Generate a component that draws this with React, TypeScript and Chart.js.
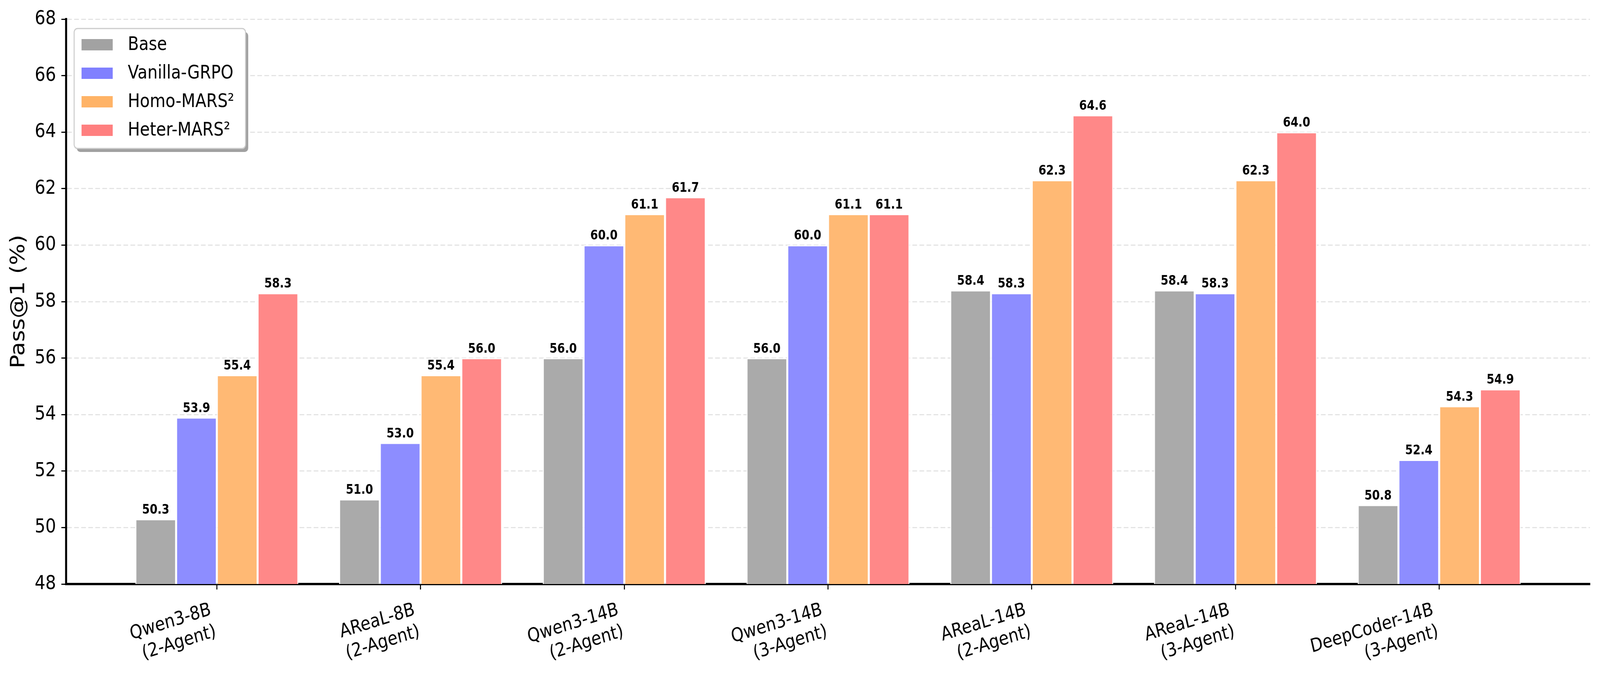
import { useEffect, useRef } from "react"
import { Chart, registerables } from "chart.js"

Chart.register(...registerables)

const categories = [
  ["Qwen3-8B", "(2-Agent)"],
  ["AReaL-8B", "(2-Agent)"],
  ["Qwen3-14B", "(2-Agent)"],
  ["Qwen3-14B", "(3-Agent)"],
  ["AReaL-14B", "(2-Agent)"],
  ["AReaL-14B", "(3-Agent)"],
  ["DeepCoder-14B", "(3-Agent)"],
]
const seriesNames = ["Base", "Vanilla-GRPO", "Homo-MARS²", "Heter-MARS²"]
const baseValues = [50.3, 51.0, 56.0, 56.0, 58.4, 58.4, 50.8]
const vanillaValues = [53.9, 53.0, 60.0, 60.0, 58.3, 58.3, 52.4]
const homoValues = [55.4, 55.4, 61.1, 61.1, 62.3, 62.3, 54.3]
const heterValues = [58.3, 56.0, 61.7, 61.1, 64.6, 64.0, 54.9]
const yTicks = [48, 50, 52, 54, 56, 58, 60, 62, 64, 66, 68]

const barColors = ["#aaaaaa", "#8d8dff", "#ffb974", "#ff8888"]
const swatchColors = ["#a2a2a2", "#8080ff", "#ffb366", "#ff7f7f"]
const FONT = "'DejaVu Sans', sans-serif"

// the chart is drawn on a 4770x1756 canvas; css stretches it to the viewport
const W = 4770
const H = 1756

// bar value labels
const valueLabels = {
  id: "valueLabels",
  afterDatasetsDraw(chart: any) {
    const ctx = chart.ctx
    ctx.save()
    ctx.font = `bold 33px ${FONT}`
    ctx.textAlign = "center"
    ctx.textBaseline = "bottom"
    ctx.fillStyle = "#000"
    chart.data.datasets.forEach((ds: any, di: number) => {
      chart.getDatasetMeta(di).data.forEach((bar: any, i: number) => {
        ctx.fillText(ds.data[i].y.toFixed(1), bar.x, bar.y - 6)
      })
    })
    ctx.restore()
  },
}

// matplotlib-style legend box with shadow
const legendBox = {
  id: "legendBox",
  afterDraw(chart: any) {
    const ctx = chart.ctx
    const { left, top } = chart.chartArea
    const x = left + 24
    const y = top + 24
    const w = 511
    const h = 307
    ctx.save()
    ctx.fillStyle = "#a0a0a0"
    ctx.beginPath()
    ctx.roundRect(x + 8, y + 9, w, h, 10)
    ctx.fill()
    ctx.fillStyle = "#ffffff"
    ctx.strokeStyle = "#cccccc"
    ctx.lineWidth = 3
    ctx.beginPath()
    ctx.roundRect(x, y, w, h, 10)
    ctx.fill()
    ctx.stroke()
    ctx.font = `48px ${FONT}`
    ctx.textAlign = "left"
    ctx.textBaseline = "middle"
    seriesNames.forEach((name, i) => {
      const cy = y + 41 + i * 73
      ctx.fillStyle = swatchColors[i]
      ctx.fillRect(x + 22, cy - 14, 93, 29)
      ctx.fillStyle = "#000"
      ctx.fillText(name, x + 160, cy + 2)
    })
    ctx.restore()
  },
}

export default function App() {
  const chartRef = useRef<HTMLCanvasElement>(null)
  const chartInstance = useRef<Chart | null>(null)

  useEffect(() => {
    if (!chartRef.current) return
    if (chartInstance.current) chartInstance.current.destroy()

    const series = [baseValues, vanillaValues, homoValues, heterValues]

    chartInstance.current = new Chart(chartRef.current, {
      type: "bar",
      data: {
        datasets: series.map((values, si) => ({
          label: seriesNames[si],
          data: values.map((v, i) => ({ x: i, y: v })),
          backgroundColor: barColors[si],
          borderColor: "#ffffff",
          borderWidth: 3,
          borderSkipped: "bottom",
          categoryPercentage: 0.8,
          barPercentage: 1.0,
        })),
      },
      options: {
        animation: false,
        responsive: false,
        devicePixelRatio: 1,
        layout: { padding: { top: 49, right: 30, left: 0, bottom: 0 } },
        scales: {
          x: {
            type: "linear",
            min: -0.74,
            max: 6.74,
            offset: false,
            afterBuildTicks: (scale: any) => {
              scale.ticks = categories.map((_, i) => ({ value: i }))
            },
            afterFit: (scale: any) => {
              scale.height = 261
              scale.paddingLeft = 0
              scale.paddingRight = 0
            },
            ticks: {
              autoSkip: false,
              minRotation: 15,
              maxRotation: 15,
              padding: 24,
              labelOffset: -18,
              color: "#000",
              font: { family: FONT, size: 48 },
              callback: (value: any) => categories[value] ?? "",
            },
            grid: {
              display: true,
              offset: false,
              drawOnChartArea: false,
              drawTicks: true,
              tickLength: 14,
              tickWidth: 3,
              tickColor: "#000",
            },
            border: { display: true, color: "#000", width: 6 },
          },
          y: {
            min: 48,
            max: 68,
            afterBuildTicks: (scale: any) => {
              scale.ticks = yTicks.map((v) => ({ value: v }))
            },
            afterFit: (scale: any) => {
              scale.width = 197
              scale.paddingTop = 0
              scale.paddingBottom = 0
            },
            ticks: {
              padding: 16,
              color: "#000",
              font: { family: FONT, size: 50 },
            },
            grid: {
              color: "#e4e4e4",
              lineWidth: 3,
              tickLength: 14,
              tickWidth: 3,
              tickColor: "#000",
              tickBorderDash: [],
            },
            border: { display: true, color: "#000", width: 6, dash: [14, 7] },
            title: {
              display: true,
              text: "Pass@1 (%)",
              color: "#000",
              font: { family: FONT, size: 58 },
              padding: { top: 22, bottom: 0 },
            },
          },
        },
        plugins: {
          legend: { display: false },
          tooltip: { enabled: false },
        },
      } as any,
      plugins: [valueLabels, legendBox],
    })

    return () => {
      if (chartInstance.current) {
        chartInstance.current.destroy()
        chartInstance.current = null
      }
    }
  }, [])

  return (
    <div style={{ position: "fixed", left: 0, top: 0, width: "100vw", height: "100vh", background: "#fff" }}>
      <canvas
        ref={chartRef}
        width={W}
        height={H}
        style={{ display: "block", width: "100vw", height: "100vh" }}
      ></canvas>
    </div>
  )
}
